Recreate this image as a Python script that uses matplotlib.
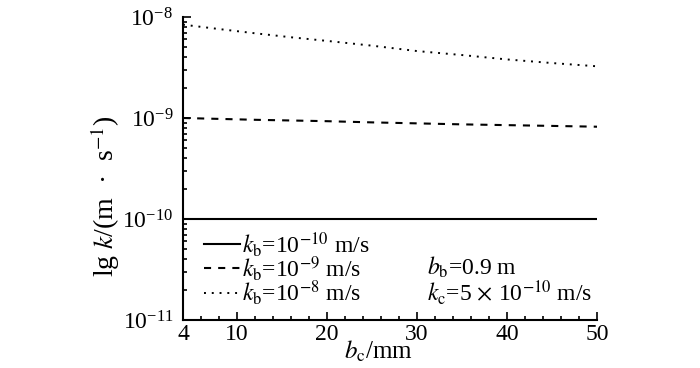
import matplotlib
matplotlib.use("Agg")
import matplotlib.pyplot as plt
import numpy as np

plt.rcParams['font.family'] = ['Liberation Serif', 'DejaVu Serif']
plt.rcParams['mathtext.fontset'] = 'stix'

# data
bc = [4, 8, 12, 16, 20, 25, 30, 35, 40, 45, 50]
k_b10 = [1e-10] * 11
k_b9 = [1.0e-9, 0.98e-9, 0.96e-9, 0.945e-9, 0.93e-9, 0.905e-9, 0.885e-9, 0.865e-9, 0.85e-9, 0.835e-9, 0.82e-9]
k_b8 = [8.4e-9, 7.6e-9, 6.9e-9, 6.3e-9, 5.8e-9, 5.2e-9, 4.6e-9, 4.2e-9, 3.8e-9, 3.5e-9, 3.25e-9]
labels = [r'$k_\mathrm{b}$=10$^{-10}$ m/s', r'$k_\mathrm{b}$=10$^{-9}$ m/s', r'$k_\mathrm{b}$=10$^{-8}$ m/s']
xticks = [4, 10, 20, 30, 40, 50]

fig = plt.figure(figsize=(7, 3.68), dpi=100)
ax = fig.add_axes([0.2614, 0.1304, 0.853 - 0.2614, 0.9538 - 0.1304])

ax.plot(bc, k_b10, color='black', lw=1.5, linestyle='-', label=labels[0])
ax.plot(bc, k_b9, color='black', lw=1.5, linestyle=(0, (3.4, 3.4)), label=labels[1])
ax.plot(bc, k_b8, color='black', lw=1.4, linestyle=(0, (1, 3)), label=labels[2])

ax.set_yscale('log')
ax.set_ylim(1e-11, 1e-8)
ax.set_xlim(4, 50)
ax.set_xticks(xticks)
ax.set_xticks(np.arange(6, 50, 2), minor=True)

for s in ['top', 'right']:
    ax.spines[s].set_visible(False)
for s in ['left', 'bottom']:
    ax.spines[s].set_linewidth(1.5)

ax.tick_params(which='both', direction='in', labelsize=17, width=1.2)
ax.tick_params(which='major', length=6)
ax.tick_params(which='minor', length=3)
ax.tick_params(axis='y', pad=7)
ax.tick_params(axis='x', pad=3)

ax.set_xlabel(r'$b_\mathrm{c}$/mm', fontsize=18, va='center')
ax.xaxis.set_label_coords(0.473, -0.105)
ax.set_ylabel('lg $k$/(m  ·  s$^{-1}$)', fontsize=20, va='center')
ax.yaxis.set_label_coords(-0.188, 0.41)

ax.legend(loc='lower left', frameon=False, fontsize=17, handlelength=1.5,
          handletextpad=0.1, labelspacing=-0.2, borderaxespad=0.45, borderpad=0.1,
          bbox_to_anchor=(0.02, 0.0))

ax.text(0.589, 0.175, r'$b_\mathrm{b}$=0.9 m', transform=ax.transAxes, fontsize=17, va='center')
ax.text(0.589, 0.092, r'$k_\mathrm{c}$=5 $\times$ 10$^{-10}$ m/s', transform=ax.transAxes, fontsize=17, va='center')

fig.savefig('out.png', dpi=100)
